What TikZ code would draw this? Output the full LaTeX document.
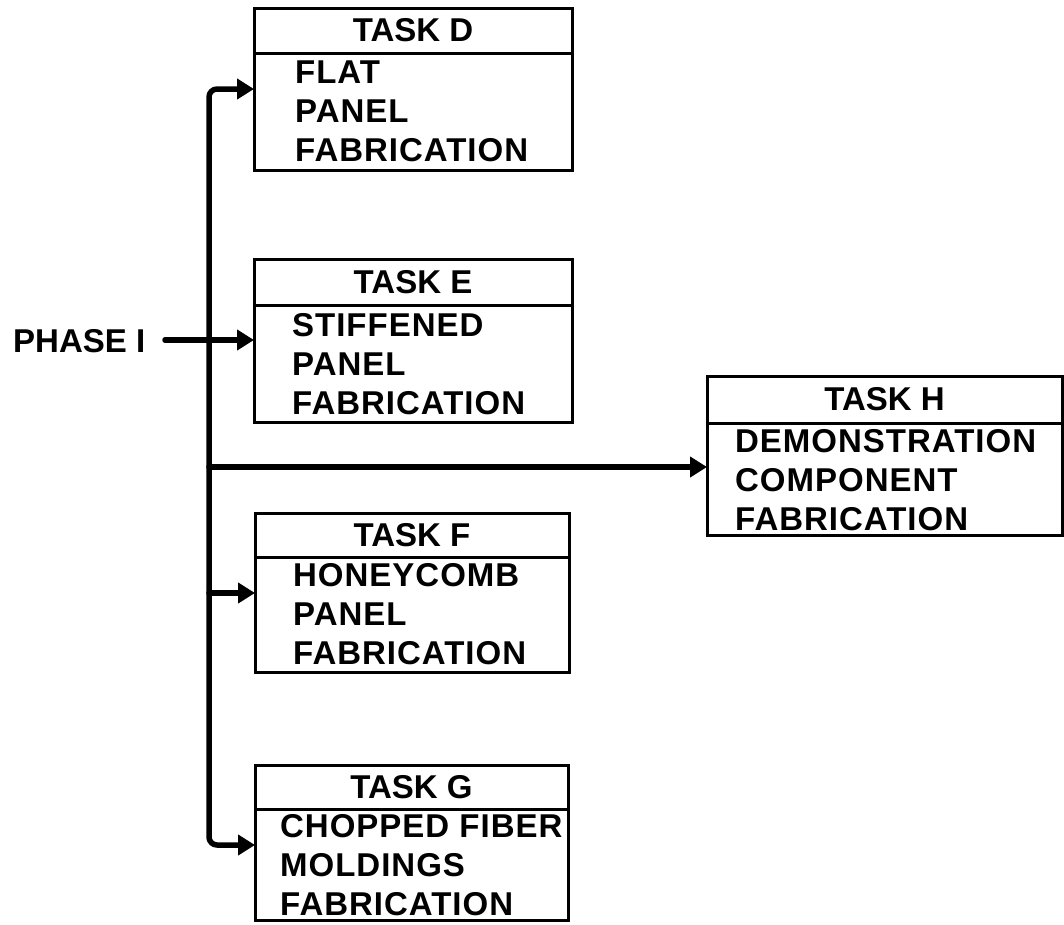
\documentclass[tikz,border=0pt]{standalone}
\usepackage{fontspec}
\setmainfont{Liberation Sans}
\newfontfamily\bodyfont[LetterSpace=3]{Liberation Sans}
\usetikzlibrary{arrows.meta}
\tikzset{
  mytip/.tip={Triangle[length=17pt,width=20pt]},
  boxline/.style={draw, line width=3pt, inner sep=0pt, outer sep=0pt},
  hdr/.style={boxline, font=\bfseries\fontsize{33}{39}\selectfont},
  bodybox/.style={boxline},
  bodytxt/.style={anchor=north west, inner sep=0pt, align=left, font=\bodyfont\bfseries\fontsize{33}{39}\selectfont},
  lbl/.style={anchor=base west, inner sep=0pt, font=\bfseries\fontsize{33}{39}\selectfont},
  conn/.style={line width=5.5pt, line cap=round, line join=round, -mytip},
}
\begin{document}
\begin{tikzpicture}[x=1pt,y=-1pt]
\useasboundingbox (0,0) rectangle (1064,924);
% Task D
\node[hdr, minimum width=318pt, minimum height=45pt, anchor=north west] (dh) at (254,8) {TASK D};
\node[bodybox, minimum width=318pt, minimum height=117pt, anchor=north west] (db) at (dh.south west) {};
\node[bodytxt] (dt) at (295,61) {FLAT\\PANEL\\FABRICATION};
% Task E
\node[hdr, minimum width=318pt, minimum height=46pt, anchor=north west] (eh) at (254,259) {TASK E};
\node[bodybox, minimum width=318pt, minimum height=117pt, anchor=north west] (eb) at (eh.south west) {};
\node[bodytxt] (et) at (292,313) {STIFFENED\\PANEL\\FABRICATION};
% Task F
\node[hdr, minimum width=314pt, minimum height=44pt, anchor=north west] (fh) at (255,513) {TASK F};
\node[bodybox, minimum width=314pt, minimum height=115pt, anchor=north west] (fb) at (fh.south west) {};
\node[bodytxt] (ft) at (293,563) {HONEYCOMB\\PANEL\\FABRICATION};
% Task G
\node[hdr, minimum width=313pt, minimum height=44pt, anchor=north west] (gh) at (255,765) {TASK G};
\node[bodybox, minimum width=313pt, minimum height=111pt, anchor=north west] (gb) at (gh.south west) {};
\node[bodytxt] (gt) at (280,814) {CHOPPED FIBER\\MOLDINGS\\FABRICATION};
% Task H
\node[hdr, minimum width=355pt, minimum height=47pt, anchor=north west] (hh) at (707,376) {TASK H};
\node[bodybox, minimum width=355pt, minimum height=112pt, anchor=north west] (hb) at (hh.south west) {};
\node[bodytxt] (ht) at (735,429) {DEMONSTRATION\\COMPONENT\\FABRICATION};
% Phase I
\node[lbl] (ph) at (13,352) {PHASE I};
% junctions on the trunk
\coordinate (jD) at (209,89);
\coordinate (jE) at (209,340);
\coordinate (jH) at (209,467);
\coordinate (jF) at (209,593);
\coordinate (jG) at (209,845);
\coordinate (ps) at (165,340);
% connectors
\draw[conn, mytip-mytip, rounded corners=8pt] (jD -| db.west) -- (jD) -- (jG) -- (jG -| gb.west);
\draw[conn] (ps) -- (jE -| eb.west);
\draw[conn] (jH) -- (jH -| hb.west);
\draw[conn] (jF) -- (jF -| fb.west);
\end{tikzpicture}
\end{document}
